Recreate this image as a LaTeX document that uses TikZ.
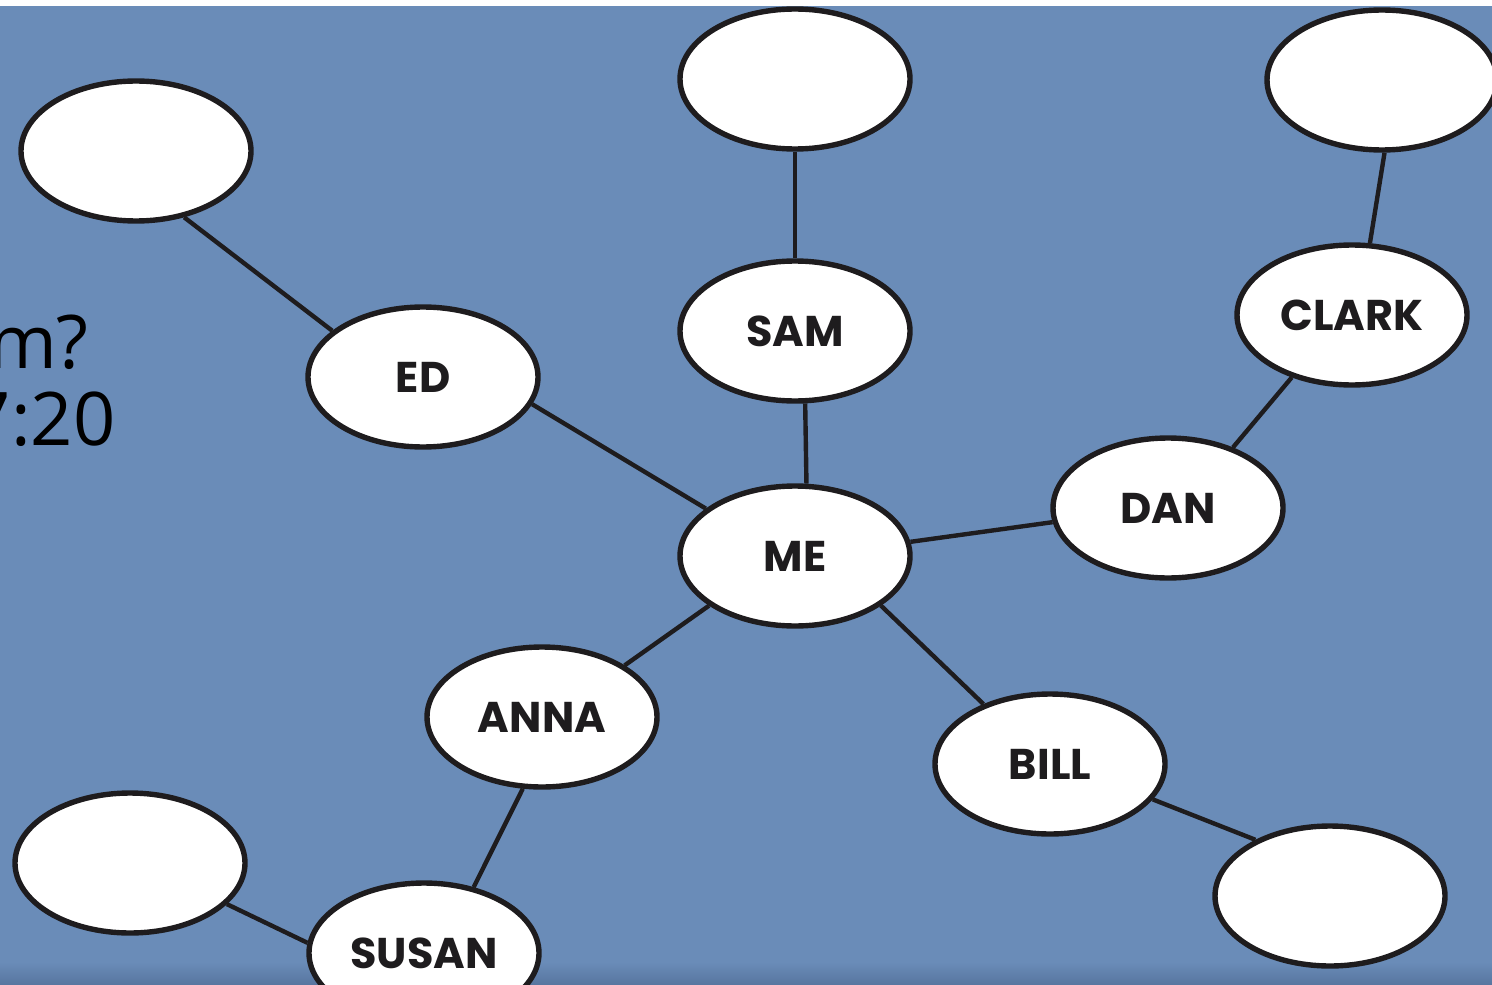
\documentclass[tikz,border=0pt]{standalone}
\usepackage{fontspec}
\newfontfamily\namefont{Poppins}[UprightFont=* Bold]
\newfontfamily\slidefont{Open Sans}
\usetikzlibrary{shapes.geometric}
\definecolor{slideblue}{RGB}{106,140,184}
\definecolor{slidedark}{RGB}{88,118,160}
\definecolor{ink}{RGB}{30,28,30}
\begin{document}
\begin{tikzpicture}[x=0.5pt,y=-0.5pt,
  person/.style={ellipse, draw=ink, fill=white, line width=2.7pt, inner sep=0pt,
    minimum width=115pt, minimum height=70pt, text=ink, font=\namefont\fontsize{21.5}{21.5}\selectfont},
  tie/.style={draw=ink, line width=2.2pt},
  slidetext/.style={anchor=base east, inner sep=0pt, font=\slidefont\fontsize{37}{37}\selectfont}]
\useasboundingbox (0,0) rectangle (1492,984);
\fill[slideblue] (0,0) rectangle (1492,984);
\shade[top color=slideblue, bottom color=slidedark] (0,962) rectangle (1492,984);
\node[slidetext] (qline) at (89,368){m?};
\node[slidetext] (tline) at (116,445){7:20};
\node[person] (me) at (795,556){ME};
\node[person] (sam) at (795,331){SAM};
\node[person] (samtop) at (795,79){};
\node[person] (ed) at (423,377){ED};
\node[person] (edtop) at (136,151){};
\node[person] (dan) at (1168,508){DAN};
\node[person] (clark) at (1352,315){CLARK};
\node[person] (clarktop) at (1382,80){};
\node[person] (bill) at (1050,764){BILL};
\node[person] (billend) at (1330,896){};
\node[person] (anna) at (542,717){ANNA};
\node[person] (susan) at (424,953){SUSAN};
\node[person] (susanend) at (130,863){};
\draw[tie](me.81) -- (sam.-82);
\draw[tie](sam.north) -- (samtop.south);
\draw[tie](me.152) -- (ed.-14);
\draw[tie](ed.153) -- (edtop.-54);
\draw[tie](me.7) -- (dan.-173);
\draw[tie](dan.43) -- (clark.-134);
\draw[tie](clark.76) -- (clarktop.-88);
\draw[tie](me.-30) -- (bill.138);
\draw[tie](bill.-19) -- (billend.143);
\draw[tie](me.-150) -- (anna.32);
\draw[tie](anna.-105) -- (susan.53);
\draw[tie](susan.175) -- (susanend.-23);
\fill[white] (0,0) rectangle (1492,6);
\end{tikzpicture}
\end{document}
